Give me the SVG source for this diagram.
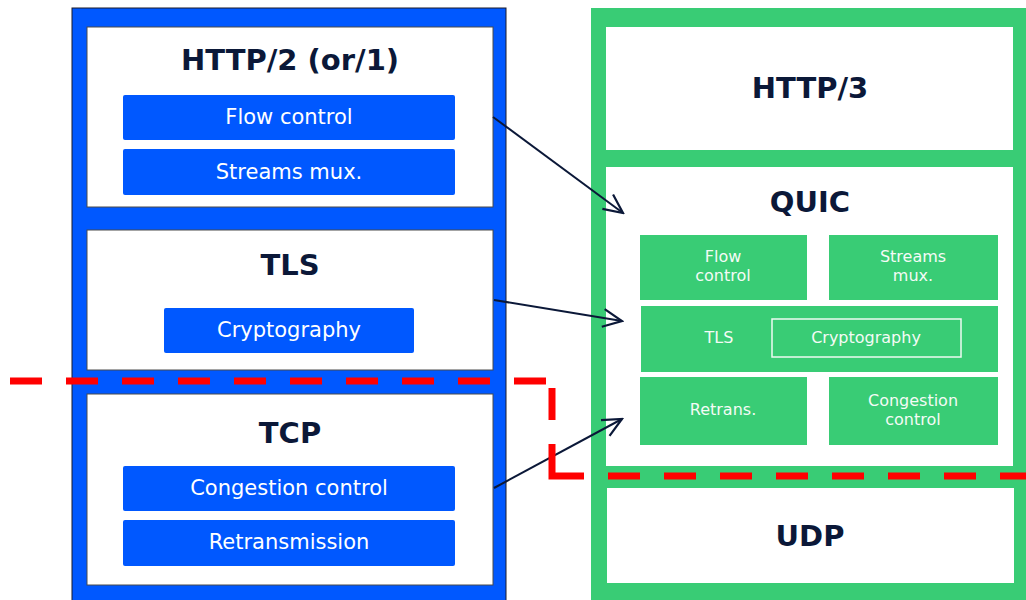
<svg xmlns="http://www.w3.org/2000/svg" width="1026" height="600" viewBox="0 0 1026 600">
  <style>
    .title { font-family: "DejaVu Sans", Verdana, sans-serif; font-weight: bold; font-size: 29px; fill: #0b1838; text-anchor: middle; }
    .btn { fill: #0058ff; }
    .btn-text { font-family: "DejaVu Sans", Verdana, sans-serif; font-size: 21px; fill: #ffffff; text-anchor: middle; }
    .layer { fill: #ffffff; stroke: #4a4a4a; stroke-width: 1; }
    .qlayer { fill: #ffffff; }
    .qbox { fill: #39cc75; }
    .qtext { font-family: "DejaVu Sans", Verdana, sans-serif; font-size: 16px; fill: #f4fbf6; text-anchor: middle; }
    .arrow { fill: none; stroke: #0b1838; stroke-width: 2; }
    .cut { fill: none; stroke: #ff0000; stroke-width: 7; }
  </style>
  <defs>
    <marker id="open-arrow" viewBox="0 0 24 24" refX="22" refY="12" markerWidth="24" markerHeight="24" markerUnits="userSpaceOnUse" orient="auto">
      <path d="M3,3 L22,12 L3,21" fill="none" stroke="#0b1838" stroke-width="2.2"/>
    </marker>
  </defs>

  <rect width="1026" height="600" fill="#ffffff"/>

  <!-- TCP-based stack -->
  <g id="tcp-stack">
    <rect x="72" y="8" width="434" height="600" fill="#0058ff" stroke="#1a1a2a" stroke-width="1"/>
  </g>
  <g id="http2">
    <rect class="layer" x="87" y="27" width="406" height="180"/>
    <text class="title" x="290" y="70">HTTP/2 (or/1)</text>
    <rect class="btn" x="123" y="95" width="332" height="45" rx="2"/>
    <text class="btn-text" x="289" y="124">Flow control</text>
    <rect class="btn" x="123" y="149" width="332" height="46" rx="2"/>
    <text class="btn-text" x="289" y="179">Streams mux.</text>
  </g>
  <g id="tls">
    <rect class="layer" x="87" y="230" width="406" height="140"/>
    <text class="title" x="290" y="275">TLS</text>
    <rect class="btn" x="164" y="308" width="250" height="45" rx="2"/>
    <text class="btn-text" x="289" y="337">Cryptography</text>
  </g>
  <g id="tcp">
    <rect class="layer" x="87" y="394" width="406" height="191"/>
    <text class="title" x="290" y="443">TCP</text>
    <rect class="btn" x="123" y="466" width="332" height="45" rx="2"/>
    <text class="btn-text" x="289" y="495">Congestion control</text>
    <rect class="btn" x="123" y="520" width="332" height="46" rx="2"/>
    <text class="btn-text" x="289" y="549">Retransmission</text>
  </g>

  <!-- QUIC-based stack -->
  <g id="quic-stack">
    <rect x="591" y="8" width="440" height="600" fill="#39cc75"/>
  </g>
  <g id="http3">
    <rect class="qlayer" x="606" y="27" width="407" height="123"/>
    <text class="title" x="810" y="98">HTTP/3</text>
  </g>
  <g id="quic">
    <rect class="qlayer" x="606" y="167" width="407" height="299"/>
    <text class="title" x="810" y="212">QUIC</text>
    <rect class="qbox" x="640" y="235" width="167" height="65"/>
    <text class="qtext" x="723" y="262">Flow</text>
    <text class="qtext" x="723" y="281">control</text>
    <rect class="qbox" x="829" y="235" width="169" height="65"/>
    <text class="qtext" x="913" y="262">Streams</text>
    <text class="qtext" x="913" y="281">mux.</text>
    <rect class="qbox" x="641" y="306" width="357" height="66"/>
    <text class="qtext" x="719" y="343">TLS</text>
    <rect x="772" y="319" width="189" height="38" fill="none" stroke="#eefaf2" stroke-width="1.5"/>
    <text class="qtext" x="866" y="343">Cryptography</text>
    <rect class="qbox" x="640" y="377" width="167" height="68"/>
    <text class="qtext" x="723" y="415">Retrans.</text>
    <rect class="qbox" x="829" y="377" width="169" height="68"/>
    <text class="qtext" x="913" y="406">Congestion</text>
    <text class="qtext" x="913" y="425">control</text>
  </g>
  <g id="udp">
    <rect class="qlayer" x="607" y="488" width="407" height="95"/>
    <text class="title" x="810" y="546">UDP</text>
  </g>

  <!-- connectors -->
  <g id="connectors">
    <line class="arrow" x1="493" y1="117" x2="623" y2="213" marker-end="url(#open-arrow)"/>
    <line class="arrow" x1="494" y1="300" x2="622" y2="321" marker-end="url(#open-arrow)"/>
    <line class="arrow" x1="494" y1="488" x2="622" y2="419" marker-end="url(#open-arrow)"/>
  </g>

  <!-- dashed boundary line -->
  <g id="boundary">
    <line class="cut" x1="10" y1="381" x2="546" y2="381" stroke-dasharray="32 24"/>
    <line class="cut" x1="552" y1="388" x2="552" y2="420"/>
    <path class="cut" d="M552,444 V476 H584"/>
    <line class="cut" x1="608" y1="476" x2="1026" y2="476" stroke-dasharray="32 24"/>
  </g>
</svg>
